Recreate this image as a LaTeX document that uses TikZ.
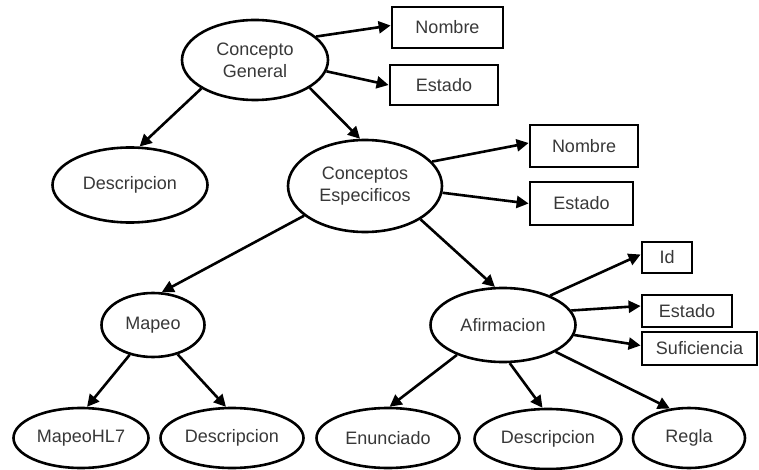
\documentclass[tikz,border=0pt]{standalone}
\usepackage{fontspec}
\setmainfont{Liberation Sans}
\usetikzlibrary{shapes.geometric,arrows.meta}
\begin{document}
\begin{tikzpicture}[x=1pt,y=-1pt,
  ell/.style={ellipse,draw=black,line width=2.6pt,inner sep=0pt,align=center,
    text=black!78,font=\fontsize{18}{22}\selectfont},
  box/.style={rectangle,draw=black,line width=2.8pt,inner sep=0pt,
    text=black!78,font=\fontsize{18}{22}\selectfont},
  arr/.style={line width=2.6pt,-{Triangle[length=12pt,width=12pt]}}]
\useasboundingbox[fill=white] (0,0) rectangle (759,470);
% ellipses
\node[ell,minimum width=146pt,minimum height=80pt] (cg) at (255,60) {Concepto\\General};
\node[ell,minimum width=155pt,minimum height=75pt] (dl) at (130,185) {Descripcion};
\node[ell,minimum width=154pt,minimum height=92pt] (ce) at (365,186) {Conceptos\\Especificos};
\node[ell,minimum width=103pt,minimum height=64pt] (ma) at (153,325) {Mapeo};
\node[ell,minimum width=145pt,minimum height=74pt] (af) at (503,325) {Afirmacion};
\node[ell,minimum width=135pt,minimum height=60pt] (hl) at (81,438) {MapeoHL7};
\node[ell,minimum width=143pt,minimum height=60pt] (dm) at (232,438) {Descripcion};
\node[ell,minimum width=143pt,minimum height=60pt] (en) at (388,438) {Enunciado};
\node[ell,minimum width=147pt,minimum height=60pt] (dr) at (548,439) {Descripcion};
\node[ell,minimum width=112pt,minimum height=60pt] (re) at (689,438) {Regla};
% boxes
\node[box,minimum width=111pt,minimum height=41pt] (n1) at (447.5,27.5) {Nombre};
\node[box,minimum width=108pt,minimum height=40pt] (e1) at (444,85) {Estado};
\node[box,minimum width=108pt,minimum height=42pt] (n2) at (584,146) {Nombre};
\node[box,minimum width=103pt,minimum height=43pt] (e2) at (581.5,203.5) {Estado};
\node[box,minimum width=50pt,minimum height=31pt] (id) at (667,257.5) {Id};
\node[box,minimum width=90pt,minimum height=32pt] (e3) at (687,311) {Estado};
\node[box,minimum width=115pt,minimum height=33pt] (su) at (699.5,348.5) {Suficiencia};
% connectors
\draw[arr] (cg.21) -- ([yshift=2pt]n1.west);
\draw[arr] (cg.-9) -- (e1.west);
\draw[arr] (cg.208) -- (dl.76);
\draw[arr] (cg.-27) -- (ce.96);
\draw[arr] (ce.20) -- ([yshift=3pt]n2.west);
\draw[arr] (ce.-5) -- (e2.west);
\draw[arr] (ce.206) -- (ma.75);
\draw[arr] (ce.-31) -- (af.102);
\draw[arr] (af.32) -- ([yshift=3pt]id.west);
\draw[arr] (af.12) -- ([yshift=5pt]e3.west);
\draw[arr] (af.-8) -- ([yshift=3pt]su.west);
\draw[arr] (ma.232) -- (hl.79);
\draw[arr] (ma.-50) -- (dm.101);
\draw[arr] (af.213) -- (en.87);
\draw[arr] (af.-80) -- (dr.100);
\draw[arr] (af.-27) -- (re.123);
\end{tikzpicture}
\end{document}
